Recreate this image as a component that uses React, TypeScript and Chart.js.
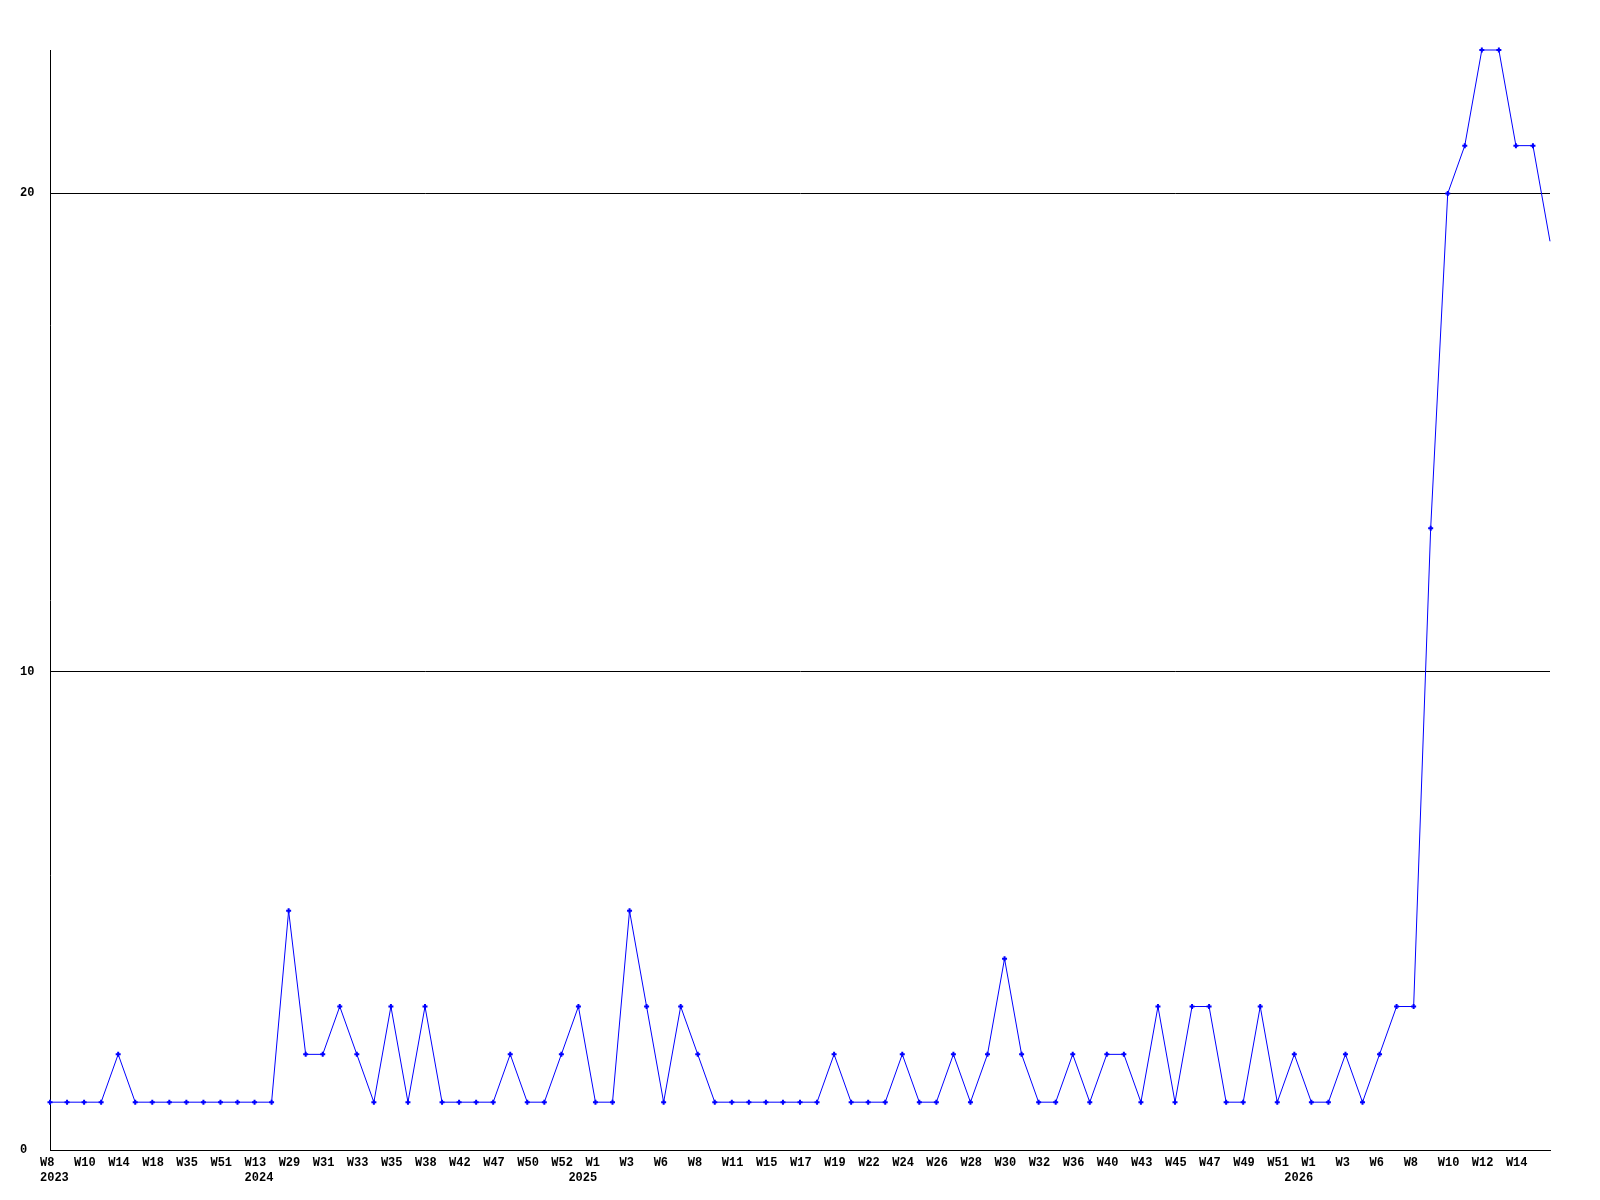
import React, { useEffect, useRef } from "react";
import { Chart, registerables } from "chart.js";

Chart.register(...registerables);

// Week labels (every other point is labelled in the reference; unlabelled points are "")
const weekLabels: string[] = [
  "W8", "", "W10", "", "W14", "", "W18", "", "W35", "", "W51", "",
  "W13", "", "W29", "", "W31", "", "W33", "", "W35", "", "W38", "",
  "W42", "", "W47", "", "W50", "", "W52", "", "W1", "", "W3", "",
  "W6", "", "W8", "", "W11", "", "W15", "", "W17", "", "W19", "",
  "W22", "", "W24", "", "W26", "", "W28", "", "W30", "", "W32", "",
  "W36", "", "W40", "", "W43", "", "W45", "", "W47", "", "W49", "",
  "W51", "", "W1", "", "W3", "", "W6", "", "W8", "", "W10", "",
  "W12", "", "W14", "", "",
];

// Year marks shown on the second line under the axis
const yearIndices: number[] = [0, 12, 31, 73];
const yearNames: string[] = ["2023", "2024", "2025", "2026"];

const values: number[] = [
  1, 1, 1, 1, 2, 1, 1, 1, 1, 1, 1, 1,
  1, 1, 5, 2, 2, 3, 2, 1, 3, 1, 3, 1,
  1, 1, 1, 2, 1, 1, 2, 3, 1, 1, 5, 3,
  1, 3, 2, 1, 1, 1, 1, 1, 1, 1, 2, 1,
  1, 1, 2, 1, 1, 2, 1, 2, 4, 2, 1, 1,
  2, 1, 2, 2, 1, 3, 1, 3, 3, 1, 1, 3,
  1, 2, 1, 1, 2, 1, 2, 3, 3, 13, 20, 21,
  23, 23, 21, 21, 19,
];

const yTicks: number[] = [0, 10, 20];

const FONT_FAMILY = "'Liberation Mono', 'DejaVu Sans Mono', monospace";

// Draws the x tick labels (left-aligned slightly before each point, as in the reference)
const xLabelPlugin = {
  id: "xLabelPlugin",
  afterDraw(chart: any) {
    const scale = chart.scales.x;
    const ctx = chart.ctx;
    ctx.save();
    ctx.fillStyle = "#000";
    ctx.font = `bold 12px ${FONT_FAMILY}`;
    ctx.textAlign = "left";
    ctx.textBaseline = "middle";
    const row1 = scale.top + 12.5;
    const row2 = row1 + 15;
    const labels: any[] = chart.data.labels;
    labels.forEach((lab: any, i: number) => {
      const x = scale.getPixelForValue(i) - 10;
      const [w, y] = lab as string[];
      if (w) ctx.fillText(w, x, row1);
      if (y) ctx.fillText(y, x, row2);
    });
    ctx.restore();
  },
};

export default function App() {
  const canvasRef = useRef<HTMLCanvasElement | null>(null);

  useEffect(() => {
    if (!canvasRef.current) return;
    const labels = weekLabels.map((w, i) => {
      const k = yearIndices.indexOf(i);
      return [w, k >= 0 ? yearNames[k] : ""];
    });
    const font = { family: FONT_FAMILY, size: 12, weight: "bold" as const, lineHeight: 1.25 };
    const chart = new Chart(canvasRef.current, {
      type: "line",
      data: {
        labels,
        datasets: [
          {
            data: values,
            borderColor: "#0000ff",
            backgroundColor: "#0000ff",
            borderWidth: 1,
            pointStyle: "cross",
            pointBorderWidth: 2,
            pointRadius: (ctx: any) => (ctx.dataIndex === values.length - 1 ? 0 : 2.5),
            tension: 0,
            fill: false,
            clip: false,
          },
        ],
      },
      options: {
        animation: false,
        responsive: false,
        devicePixelRatio: 1,
        layout: { padding: { left: 20, top: 50, right: 50, bottom: 0 } },
        plugins: { legend: { display: false }, tooltip: { enabled: false } },
        scales: {
          x: {
            type: "category",
            offset: false,
            grid: { display: false, drawTicks: false },
            border: { display: true, color: "#000", width: 1 },
            ticks: { display: false, autoSkip: false, maxRotation: 0, minRotation: 0 },
            afterFit: (scale: any) => {
              scale.height = 50;
            },
          },
          y: {
            min: 0,
            max: 23,
            grid: { color: "#000", lineWidth: 1, drawTicks: false },
            border: { display: true, color: "#000", width: 1 },
            ticks: {
              stepSize: 10,
              crossAlign: "far",
              padding: 0,
              color: "#000",
              font,
            },
            afterBuildTicks: (scale: any) => {
              scale.ticks = yTicks.map((v) => ({ value: v }));
            },
            afterFit: (scale: any) => {
              scale.width = 30;
            },
          },
        },
      },
      plugins: [xLabelPlugin],
    } as any);
    return () => chart.destroy();
  }, []);

  return (
    <div style={{ position: "absolute", left: 0, top: 0, width: 1600, height: 1200, background: "#fff" }}>
      <canvas ref={canvasRef} width={1600} height={1200} style={{ width: 1600, height: 1200 }} />
    </div>
  );
}
